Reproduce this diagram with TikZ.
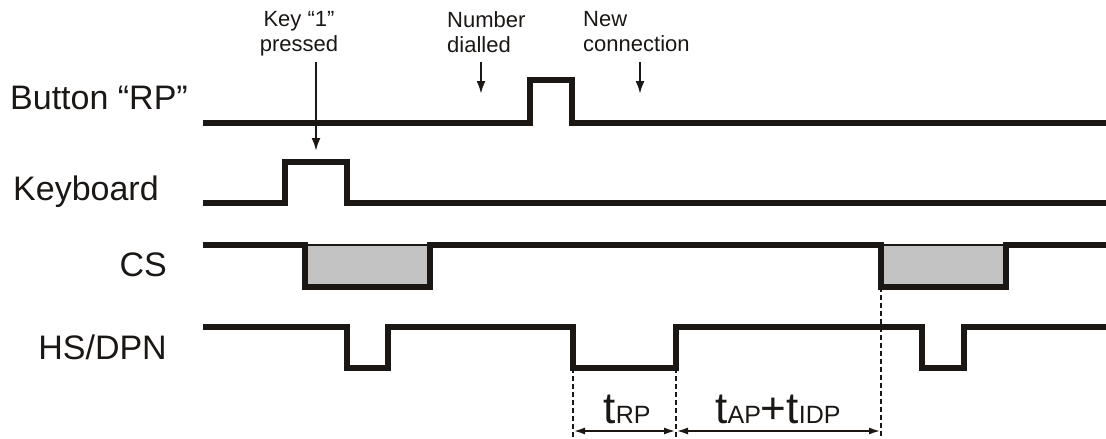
\documentclass[tikz,border=0pt]{standalone}
\usepackage{fontspec}
\setmainfont{Liberation Sans}
\usepackage{tikz}
\usetikzlibrary{
  arrows.meta,
  calc
}
\definecolor{tdInk}{HTML}{1A1715}
\definecolor{tdFill}{HTML}{C3C3C3}
\newcommand{\tbig}{\fontsize{44}{44}\selectfont}
\newcommand{\tsub}{\fontsize{25}{25}\selectfont}
\tikzset{
  sig/.style={line width=5.2pt, draw=tdInk, line join=miter},
  sigbox/.style={fill=tdFill, draw=tdInk, line width=1.2pt},
  signame/.style={font=\fontsize{34}{40}\selectfont, text=tdInk, inner sep=0pt},
  note/.style={font=\fontsize{22}{25}\selectfont, text=tdInk, inner sep=0pt},
  pointer/.style={-{Latex[length=13pt, width=9pt]}, line width=2.3pt, draw=tdInk, fill=tdInk},
  guide/.style={line width=1.6pt, draw=tdInk, dash pattern=on 5pt off 3pt},
  spanarrow/.style={{Latex[length=12pt, width=7pt]}-{Latex[length=12pt, width=7pt]}, line width=2.3pt, draw=tdInk, fill=tdInk},
  tlabel/.style={inner sep=0pt, text=tdInk}
}

\begin{document}
\begin{tikzpicture}[x=1pt, y=-1pt]
  \useasboundingbox (0,0) rectangle (1106,439);
  % signal names
  \node[signame, anchor=base west] (btn) at (10,109) {Button “RP”};
  \node[signame, anchor=base west] (kbd) at (13,200) {Keyboard};
  \node[signame, anchor=base east] (cs) at (167,276) {CS};
  \node[signame, anchor=base east] (hs) at (167,359) {HS/DPN};
  % events
  \node[note, align=center, anchor=north] (keyev) at (299,11) {Key “1”\\pressed};
  \node[note, align=left, anchor=north west] (numev) at (447,11) {Number\\dialled};
  \node[note, align=left, anchor=north west] (newev) at (583,11) {New\\connection};
  % waveforms
  \draw[sig] (203,123) -- (530,123) -- (530,80) -- (572,80) -- (572,123) -- (1106,123);
  \draw[sig] (203,203) -- (285,203) -- (285,162) -- (347,162) -- (347,203) -- (1106,203);
  \draw[sigbox] (305,245) rectangle (430,287);
  \draw[sigbox] (881,245) rectangle (1006,287);
  \draw[sig] (203,245) -- (305,245) -- (305,287) -- (430,287) -- (430,245)
    -- (881,245) -- (881,287) -- (1006,287) -- (1006,245) -- (1106,245);
  \draw[sig] (203,327) -- (347,327) -- (347,368) -- (388,368) -- (388,327)
    -- (573,327) -- (573,368) -- (676,368) -- (676,327)
    -- (922,327) -- (922,368) -- (964,368) -- (964,327) -- (1106,327);
  % event pointers
  \coordinate (keyT) at (316,62);
  \coordinate (keyH) at (316,151);
  \coordinate (numT) at (481,62);
  \coordinate (numH) at (481,94);
  \coordinate (newT) at (640,62);
  \coordinate (newH) at (640,94);
  \draw[pointer] (keyT) -- (keyH);
  \draw[pointer] (numT) -- (numH);
  \draw[pointer] (newT) -- (newH);
  % timing
  \coordinate (rpOn) at (573,368);
  \coordinate (rpOff) at (676,368);
  \coordinate (csOn) at (881,287);
  \coordinate (dimA) at (573,431);
  \coordinate (dimB) at (676,431);
  \coordinate (dimC) at (881,431);
  \draw[guide] (rpOn) -- ($(dimA)+(0,8)$);
  \draw[guide] (rpOff) -- ($(dimB)+(0,8)$);
  \draw[guide] (csOn) -- ($(dimC)+(0,8)$);
  \draw[spanarrow] (dimA) -- (dimB);
  \draw[spanarrow] (dimB) -- (dimC);
  \node[tlabel, anchor=base] (trp) at (627,423) {\tbig t\tsub RP};
  \node[tlabel, anchor=base] (tapidp) at (778,423) {\tbig t\tsub AP\tbig +t\tsub IDP};
\end{tikzpicture}
\end{document}
